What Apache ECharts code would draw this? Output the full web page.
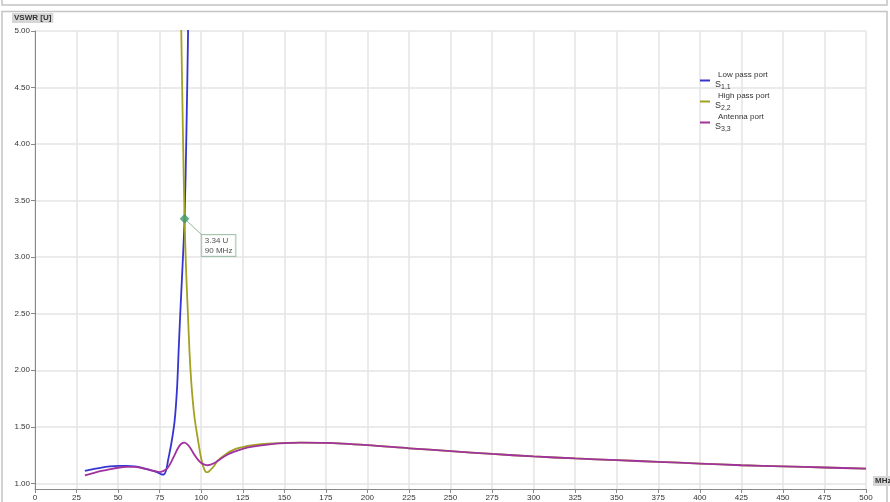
<!DOCTYPE html>
<html><head><meta charset="utf-8">
<script src="https://cdn.jsdelivr.net/npm/echarts@6/dist/echarts.min.js"></script>
<style>html,body{margin:0;padding:0;background:#fff;}#c{width:890px;height:502px;}</style>
</head><body><div id="c"></div>
<script>
// ---- data ----
const seriesNames = ['Low pass port', 'High pass port', 'Antenna port'];
const seriesSubs = ['1,1', '2,2', '3,3'];
const seriesColors = ['#3535d0', '#a3a123', '#a0329e'];

const freqLow = [30,35,40,45,50,55,60,65,70,73,76,77.5,79,80,82,84,85.5,86.5,87.4,88.7,90,91.1,92.1,93.2];
const vswrLow = [1.11,1.125,1.14,1.15,1.155,1.155,1.15,1.135,1.115,1.1,1.08,1.078,1.12,1.2,1.35,1.55,1.85,2.2,2.5,2.9,3.34,4.1,5.0,6.5];

const freqHigh = [86.8,88,89,90,91,92,93,94,95,96,97,98,99,100,101,102,103,104,105,107,110,115,120,125,130,140,150,160,175,200,225,250,275,300,325,350,375,400,425,450,475,500];
const vswrHigh = [6.0,5.0,4.1,3.34,2.85,2.5,2.15,1.9,1.72,1.58,1.48,1.39,1.3,1.22,1.16,1.12,1.1,1.1,1.11,1.14,1.2,1.26,1.3,1.32,1.335,1.35,1.357,1.36,1.358,1.338,1.31,1.285,1.26,1.238,1.22,1.205,1.19,1.175,1.16,1.15,1.14,1.13];

const freqAnt = [30,35,40,45,50,55,60,65,70,75,78,80,82,84,86,88,90,92,94,96,98,100,102,104,108,112,116,120,125,130,140,150,160,175,200,225,250,275,300,325,350,375,400,425,450,475,500];
const vswrAnt = [1.07,1.09,1.11,1.125,1.138,1.145,1.145,1.132,1.115,1.1,1.115,1.14,1.19,1.25,1.31,1.35,1.36,1.34,1.3,1.25,1.21,1.18,1.165,1.16,1.18,1.22,1.255,1.28,1.305,1.322,1.343,1.355,1.36,1.358,1.338,1.31,1.285,1.26,1.238,1.22,1.205,1.19,1.175,1.16,1.15,1.14,1.13];

const markerFreq = 90, markerVswr = 3.34;
const markerText = ['3.34 U', '90 MHz'];
const xTickInterval = 25;
const yTicks = [1.0,1.5,2.0,2.5,3.0,3.5,4.0,4.5,5.0];
const yAxisName = 'VSWR [U]';
const xAxisName = 'MHz';

const zip = (xs, ys) => xs.map((x, i) => [x, ys[i]]);
const curves = [zip(freqLow, vswrLow), zip(freqHigh, vswrHigh), zip(freqAnt, vswrAnt)];

const FONT = 'Liberation Sans, Arial, sans-serif';
const chart = echarts.init(document.getElementById('c'), null, {renderer: 'canvas'});

const lineSeries = seriesNames.map((n, i) => ({
  name: n, type: 'line', data: curves[i], showSymbol: false, smooth: 0.3,
  lineStyle: {color: seriesColors[i], width: 1.8}, itemStyle: {color: seriesColors[i]},
  clip: true, z: 3 + i
}));

chart.setOption({
  animation: false,
  textStyle: {fontFamily: FONT},
  grid: {left: 35, right: 24, top: 31, bottom: 13},
  xAxis: {
    type: 'value', min: 0, max: 500, interval: xTickInterval,
    axisLine: {lineStyle: {color: '#888', width: 1}},
    axisTick: {lineStyle: {color: '#888'}, length: 4},
    axisLabel: {fontSize: 8, color: '#333', margin: 5, fontFamily: FONT, showMinLabel: true, showMaxLabel: true},
    splitLine: {show: true, lineStyle: {color: '#e4e4e4', width: 1.5}}
  },
  yAxis: {
    type: 'value', min: 0.95, max: 5,
    axisLine: {show: true, lineStyle: {color: '#888', width: 1}},
    axisTick: {show: true, lineStyle: {color: '#888'}, length: 4, customValues: yTicks},
    axisLabel: {fontSize: 8, color: '#333', margin: 5, fontFamily: FONT, customValues: yTicks,
      formatter: v => v.toFixed(2)},
    splitLine: {show: true, lineStyle: {color: '#e4e4e4', width: 1.5}}
  },
  legend: {
    orient: 'vertical', left: 695, top: 66, itemGap: 1,
    icon: 'rect', itemWidth: 10, itemHeight: 2,
    data: seriesNames,
    formatter: name => {
      const i = seriesNames.indexOf(name);
      return '{a|' + name + '}\n{s|S}{b|' + seriesSubs[i] + '}';
    },
    textStyle: {
      fontFamily: FONT, color: '#333', fontSize: 8,
      rich: {
        a: {fontSize: 8, color: '#333', padding: [0, 0, 0, 3], lineHeight: 9},
        s: {fontSize: 9, color: '#333', lineHeight: 11},
        b: {fontSize: 7, color: '#333', lineHeight: 11, padding: [5, 0, 0, 0]}
      }
    }
  },
  graphic: [
    {type: 'rect', shape: {x: 2, y: -6, width: 885, height: 11}, style: {fill: 'none', stroke: '#c4c4c4', lineWidth: 1.5}, silent: true},
    {type: 'rect', shape: {x: 2, y: 11.5, width: 885, height: 500}, style: {fill: 'none', stroke: '#c4c4c4', lineWidth: 1.5}, silent: true},
    {type: 'text', left: 12, top: 13, style: {text: yAxisName, fontSize: 8, fontWeight: 'bold', fill: '#333', fontFamily: FONT,
      backgroundColor: '#d6d6d6', padding: [1, 2]}, z: 10},
    {type: 'text', left: 873, top: 476, style: {text: xAxisName, fontSize: 8, fontWeight: 'bold', fill: '#333', fontFamily: FONT,
      backgroundColor: '#d6d6d6', padding: [1, 2]}, z: 10}
  ],
  series: lineSeries.concat([{
    name: 'marker', type: 'scatter', z: 10,
    data: [[markerFreq, markerVswr]],
    symbol: 'diamond', symbolSize: 9,
    itemStyle: {color: '#3f9a6e', borderColor: '#2d7a55', borderWidth: 0.5},
    label: {
      show: true, position: [22, 21], align: 'left', verticalAlign: 'top',
      formatter: markerText.join('\n'), fontSize: 8, color: '#222', fontFamily: FONT, lineHeight: 10,
      backgroundColor: '#fff', borderColor: '#8fb89a', borderWidth: 1, padding: [1, 3, 0, 3]
    },
    markLine: {
      silent: true, symbol: 'none', animation: false,
      lineStyle: {color: '#8fb89a', width: 1, type: 'solid'},
      label: {show: false},
      data: [[{coord: [markerFreq, markerVswr]}, {coord: [100.5, 3.195]}]]
    }
  }])
});
</script></body></html>
